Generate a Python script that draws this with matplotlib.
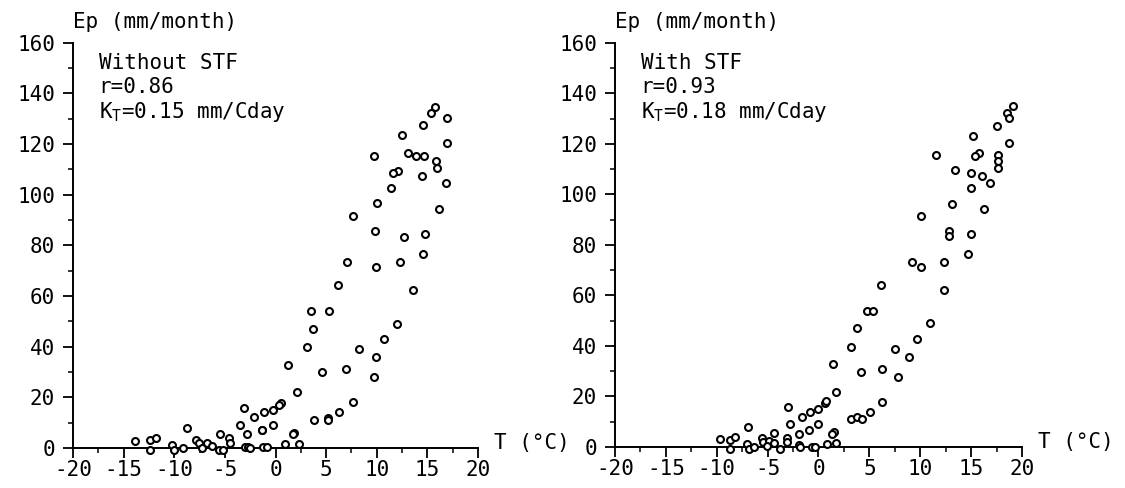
import matplotlib
matplotlib.use("Agg")
import matplotlib.pyplot as plt
from matplotlib.ticker import MultipleLocator

# ---- data ----
T_without = [15.77, 15.35, 16.96, 14.53, 12.52, 16.96, 9.69, 13.08, 13.87, 14.63,
             15.84, 15.98, 12.13, 11.57, 14.46, 11.43, 16.80, 10.05, 16.17, 7.68,
             9.85, 12.70, 14.80,
             14.53, 7.06, 9.95, 12.26, 6.17, 13.60, 3.47, 5.31, 3.67, 3.11, 12.02,
             10.68, 8.24, 9.89, 9.69, 1.27, 4.59, 6.96, 2.09, 7.68, 6.27, 5.22,
             5.22, 3.80, 0.54, 0.38, -0.28, -1.13, -0.22, -1.36, 1.83, 1.76, 0.94,
             2.35, -1.20, -0.87,
             -13.87, -12.39, -11.80, -12.39, -10.19, -9.99, -8.77, -9.10, -7.88,
             -7.52, -7.29, -6.73, -6.24, -5.48, -5.58, -5.15, -4.59, -4.49, -3.08,
             -3.50, -2.84, -3.00, -2.70, -2.50, -2.09, -1.30]
Ep_without = [134.6, 132.3, 130.4, 127.4, 123.4, 120.4, 115.4, 116.5, 115.4, 115.4,
              113.2, 110.5, 109.4, 108.4, 107.5, 102.5, 104.5, 96.6, 94.5, 91.4,
              85.5, 83.4, 84.3,
              76.4, 73.4, 71.4, 73.4, 64.2, 62.2, 54.2, 54.2, 46.9, 40.0, 49.1,
              43.1, 39.0, 36.1, 28.2, 32.9, 29.9, 31.1, 22.0, 18.1, 14.2, 11.7,
              11.1, 11.2, 17.9, 17.0, 15.0, 14.1, 9.2, 7.1, 6.1, 5.4, 1.5,
              1.5, 0.5, 0.5,
              2.9, 3.2, 4.1, -0.9, 1.2, -0.9, 8.0, 0.1, 3.2,
              1.9, 0.1, 2.1, 0.8, 5.4, -0.9, -0.9, 4.1, 2.1, 15.9,
              9.1, 5.4, 0.5, 0.5, 0.0, 12.4, 7.1]

T_with = [19.11, 18.49, 18.72, 17.50, 15.14, 18.72, 11.60, 15.79, 15.37, 17.67,
          17.60, 17.67, 13.46, 15.04, 16.03, 16.85, 14.98, 13.17, 16.29, 10.05,
          12.84, 12.84, 14.98,
          14.68, 9.23, 10.05, 12.38, 12.35, 6.17, 4.73, 5.35, 3.81, 3.18, 10.94,
          9.66, 7.55, 8.93, 7.85, 6.27, 4.20, 1.45, 1.77, 6.20, 5.09, 3.15, 3.74,
          4.30, 1.51, 1.35, 1.74,
          -9.66, -8.67, -8.18, -8.67, -6.97, -7.03, -6.86, -6.37, -5.55, -5.49,
          -4.90, -5.05, -4.40, -4.33, -3.74, -3.09, -3.09, -3.02, -2.76, -1.94,
          -1.94, -1.77, -1.61, -0.96, -0.86, -0.03, -0.03, 0.62, 0.69, -0.62,
          -0.30, 0.85]
Ep_with = [135.1, 132.3, 130.2, 127.1, 123.2, 120.3, 115.4, 116.3, 115.3, 115.4,
           113.3, 110.5, 109.5, 108.4, 107.4, 104.5, 102.4, 96.3, 94.3, 91.4,
           85.6, 83.6, 84.2,
           76.2, 73.1, 71.2, 73.2, 62.0, 64.1, 53.9, 53.9, 46.9, 39.7, 48.9,
           42.8, 38.9, 35.8, 27.9, 30.8, 29.8, 32.7, 21.9, 17.8, 13.8, 11.1, 12.0,
           10.9, 6.0, 5.1, 1.5,
           3.0, 2.8, 4.1, -0.9, 8.0, 1.2, -0.9, 0.1, 3.4, 2.1,
           2.5, 0.4, 5.4, 1.5, -0.9, 3.7, 2.1, 15.9, 9.0, 5.0,
           0.8, 0.1, 12.0, 6.7, 13.7, 14.9, 9.0, 17.5, 18.3, 0.1,
           0.1, 1.1]

panel_titles = ["Without STF", "With STF"]
panel_r = ["r=0.86", "r=0.93"]
panel_kt = ["0.15", "0.18"]
x_ticks = [-20, -15, -10, -5, 0, 5, 10, 15, 20]
y_ticks = [0, 20, 40, 60, 80, 100, 120, 140, 160]

FONT = "DejaVu Sans Mono"
plt.rcParams["font.family"] = FONT
plt.rcParams["mathtext.fontset"] = "custom"
plt.rcParams["mathtext.rm"] = FONT

fig = plt.figure(figsize=(11.25, 4.88), dpi=100)
axes = [fig.add_axes([0.0649, 0.082, 0.360, 0.8305]),
        fig.add_axes([0.5467, 0.084, 0.3617, 0.8285])]

datasets = [(T_without, Ep_without), (T_with, Ep_with)]
for i, ax in enumerate(axes):
    T, E = datasets[i]
    ax.plot(T, E, linestyle="none", marker="o", markersize=5.0,
            markerfacecolor="white", markeredgecolor="black",
            markeredgewidth=1.5, clip_on=False, zorder=3)
    ax.set_xlim(-20, 20)
    ax.set_ylim(0, 160)
    for s in ["top", "right"]:
        ax.spines[s].set_visible(False)
    for s in ["left", "bottom"]:
        ax.spines[s].set_linewidth(1.4)
    ax.set_xticks(x_ticks)
    ax.set_xticklabels(["%d" % v for v in x_ticks])
    ax.set_yticks(y_ticks)
    ax.xaxis.set_minor_locator(MultipleLocator(2.5))
    ax.yaxis.set_minor_locator(MultipleLocator(10))
    ax.tick_params(axis="both", which="major", direction="out", length=7,
                   width=1.3, labelsize=15)
    ax.tick_params(axis="x", which="major", pad=1.5)
    ax.tick_params(axis="y", which="major", pad=6)
    ax.tick_params(axis="both", which="minor", direction="out", length=3.5,
                   width=1.1)
    ax.text(0.0, 1.05, "Ep (mm/month)", transform=ax.transAxes,
            fontsize=15, ha="left", va="center")
    ax.text(0.063, 0.951, panel_titles[i], transform=ax.transAxes,
            fontsize=15, ha="left", va="center")
    ax.text(0.063, 0.891, panel_r[i], transform=ax.transAxes,
            fontsize=15, ha="left", va="center")
    ax.text(0.063, 0.829, r"K$_\mathregular{T}$=" + panel_kt[i] + " mm/Cday",
            transform=ax.transAxes, fontsize=15, ha="left", va="center")
    ax.text(1.04, 0.012, "T (°C)", transform=ax.transAxes,
            fontsize=15, ha="left", va="center")
    ax.set_facecolor("white")

fig.savefig("out.png", dpi=100, facecolor="white")
